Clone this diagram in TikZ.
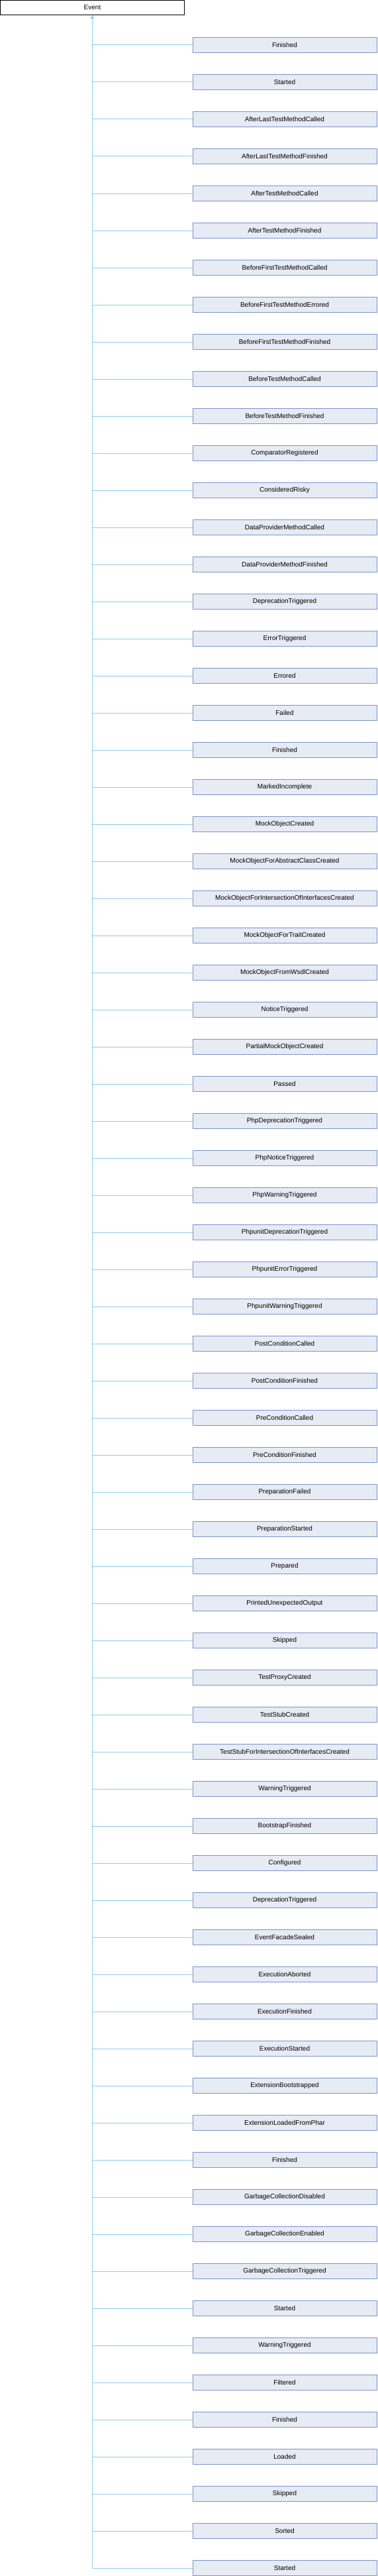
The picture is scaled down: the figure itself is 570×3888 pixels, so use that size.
\documentclass[tikz,border=0pt]{standalone}
\usepackage{fontspec}
\setmainfont{Liberation Sans}
\usetikzlibrary{arrows.meta,positioning}
\definecolor{boxfill}{HTML}{E7EBF4}
\definecolor{boxline}{HTML}{7B93C9}
\definecolor{linkblue}{HTML}{8FCAEA}

\begin{document}
\begin{tikzpicture}[x=1pt,y=1pt,
    basebox/.style={draw=black,line width=1pt,minimum width=278pt,minimum height=22.5pt,inner sep=0pt,font=\fontsize{10}{12}\selectfont},
    subbox/.style={basebox,draw=boxline,fill=boxfill},
    branch/.style={linkblue,line width=1pt}]
      \useasboundingbox (0,0) rectangle (570,-3888);
      \node[basebox] (ev) at (139.5,-11.5) {Event};
      \foreach \name [count=\i] in {Finished,Started,AfterLastTestMethodCalled,AfterLastTestMethodFinished,AfterTestMethodCalled,AfterTestMethodFinished,BeforeFirstTestMethodCalled,BeforeFirstTestMethodErrored,BeforeFirstTestMethodFinished,BeforeTestMethodCalled,BeforeTestMethodFinished,ComparatorRegistered,ConsideredRisky,DataProviderMethodCalled,DataProviderMethodFinished,DeprecationTriggered,ErrorTriggered,Errored,Failed,Finished,MarkedIncomplete,MockObjectCreated,MockObjectForAbstractClassCreated,MockObjectForIntersectionOfInterfacesCreated,MockObjectForTraitCreated,MockObjectFromWsdlCreated,NoticeTriggered,PartialMockObjectCreated,Passed,PhpDeprecationTriggered,PhpNoticeTriggered,PhpWarningTriggered,PhpunitDeprecationTriggered,PhpunitErrorTriggered,PhpunitWarningTriggered,PostConditionCalled,PostConditionFinished,PreConditionCalled,PreConditionFinished,PreparationFailed,PreparationStarted,Prepared,PrintedUnexpectedOutput,Skipped,TestProxyCreated,TestStubCreated,TestStubForIntersectionOfInterfacesCreated,WarningTriggered,BootstrapFinished,Configured,DeprecationTriggered,EventFacadeSealed,ExecutionAborted,ExecutionFinished,ExecutionStarted,ExtensionBootstrapped,ExtensionLoadedFromPhar,Finished,GarbageCollectionDisabled,GarbageCollectionEnabled,GarbageCollectionTriggered,Started,WarningTriggered,Filtered,Finished,Loaded,Skipped,Sorted,Started}
        \node[subbox] (c\i) at (430,{-68-56*(\i-1)}) {\name};
      \draw[branch,{Triangle[length=5pt,width=6pt]}-] (ev.south) -- (ev.south |- c69.west);
      \foreach \i in {1,...,69} \draw[branch] (ev.south |- c\i.west) -- (c\i.west);
    \end{tikzpicture}
\end{document}
